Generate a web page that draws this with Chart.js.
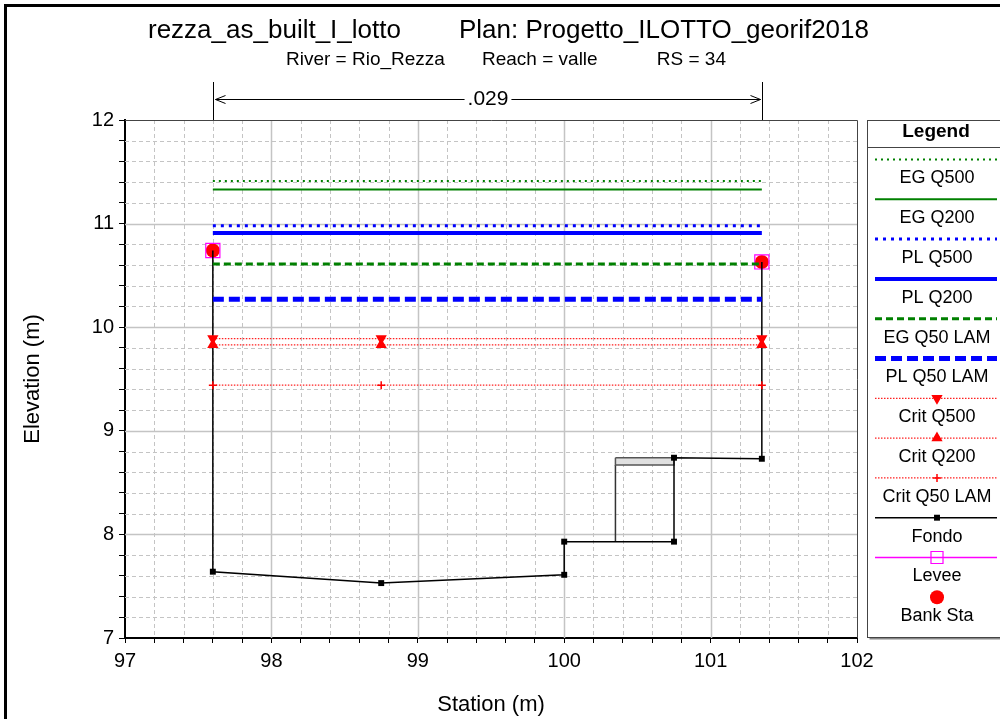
<!DOCTYPE html>
<html>
<head>
<meta charset="utf-8">
<script src="https://cdn.jsdelivr.net/npm/chart.js@4.4.0/dist/chart.umd.min.js"></script>
<style>
  html, body { margin: 0; padding: 0; background: #fff; }
  #wrap { width: 1000px; height: 719px; }
</style>
</head>
<body>
<div id="wrap"><canvas id="chart" width="1000" height="719"></canvas></div>
<script>
const wsNames = ["EG Q500", "EG Q200", "PL Q500", "PL Q200", "EG Q50 LAM", "PL Q50 LAM"];
const wsStations = [97.6, 101.35];
const wsElevations = [11.41, 11.33, 10.98, 10.91, 10.61, 10.27];

const critNames = ["Crit Q500", "Crit Q200", "Crit Q50 LAM"];
const critStations = [97.6, 98.75, 101.35];
const critElevations = [9.89, 9.83, 9.44];

const fondoStations = [97.6, 97.6, 98.75, 100.0, 100.0, 100.75, 100.75, 101.35, 101.35];
const fondoElevations = [10.74, 7.64, 7.53, 7.61, 7.93, 7.93, 8.74, 8.73, 10.63];

const bankStations = [97.6, 101.35];
const bankElevations = [10.74, 10.63];

const obstrStations = [100.35, 100.75];
const obstrElevations = [7.93, 8.67, 8.74]; // base, bottom of block, top of block

const xTicks = [97, 98, 99, 100, 101, 102];
const yTicks = [7, 8, 9, 10, 11, 12];
const manningN = ".029";

const titleLeft = "rezza_as_built_I_lotto";
const titleRight = "Plan: Progetto_ILOTTO_georif2018";
const subtitleParts = ["River = Rio_Rezza", "Reach = valle", "RS = 34"];

const FONT = '"Liberation Sans", Arial, sans-serif';

function pts(xs, ys) {
    return xs.map((x, i) => ({ x: x, y: ys[i] }));
}

function flat(y) {
    return wsStations.map(x => ({ x: x, y: y }));
}

const wsStyles = [
    { color: "#008000", width: 2, dash: [2, 4] },
    { color: "#008000", width: 2, dash: [] },
    { color: "#0000ff", width: 3, dash: [3, 5] },
    { color: "#0000ff", width: 4, dash: [] },
    { color: "#008000", width: 3, dash: [7, 4] },
    { color: "#0000ff", width: 5, dash: [11, 5] }
];

const critMarkers = [
    { style: "triangle", rotation: 180, radius: 5 },
    { style: "triangle", rotation: 0, radius: 5 },
    { style: "cross", rotation: 0, radius: 4 }
];

const datasets = [];

wsNames.forEach((name, i) => {
    datasets.push({
        label: name,
        data: flat(wsElevations[i]),
        borderColor: wsStyles[i].color,
        backgroundColor: wsStyles[i].color,
        borderWidth: wsStyles[i].width,
        borderDash: wsStyles[i].dash,
        pointRadius: 0
    });
});

critNames.forEach((name, i) => {
    datasets.push({
        label: name,
        data: critStations.map(x => ({ x: x, y: critElevations[i] })),
        borderColor: "#ff2020",
        backgroundColor: "#ff0000",
        borderWidth: 1.3,
        borderDash: [1.5, 1.5],
        pointStyle: critMarkers[i].style,
        rotation: critMarkers[i].rotation,
        pointRadius: critMarkers[i].radius,
        legendRadius: critMarkers[i].radius,
        pointBorderColor: "#ff0000",
        pointBackgroundColor: "#ff0000",
        pointBorderWidth: 1.5
    });
});

// the bank-top points of the ground line carry no marker
datasets.push({
    label: "Fondo",
    data: pts(fondoStations, fondoElevations),
    borderColor: "#000000",
    backgroundColor: "#000000",
    borderWidth: 1.5,
    pointStyle: "rect",
    pointRadius: fondoStations.map((x, i) => (i === 0 || i === fondoStations.length - 1) ? 0 : 4.2),
    legendRadius: 4.2,
    pointBackgroundColor: "#000000",
    pointBorderColor: "#000000",
    pointBorderWidth: 0
});

datasets.push({
    label: "Levee",
    data: pts(bankStations, bankElevations),
    borderColor: "#ff00ff",
    backgroundColor: "rgba(0,0,0,0)",
    borderWidth: 1.3,
    showLine: false,
    pointStyle: "rect",
    pointRadius: 10,
    legendRadius: 8.5,
    pointBorderColor: "#ff00ff",
    pointBackgroundColor: "rgba(0,0,0,0)",
    pointBorderWidth: 1.2
});

datasets.push({
    label: "Bank Sta",
    legendLine: false,
    data: pts(bankStations, bankElevations),
    borderColor: "#ff0000",
    backgroundColor: "#ff0000",
    borderWidth: 0,
    showLine: false,
    pointStyle: "circle",
    pointRadius: 7,
    legendRadius: 7,
    pointBackgroundColor: "#ff0000",
    pointBorderColor: "#ff0000",
    pointBorderWidth: 0
});

// obstruction block (not in legend)
datasets.push({
    noLegend: true,
    data: [
        { x: obstrStations[0], y: obstrElevations[2] },
        { x: obstrStations[1], y: obstrElevations[2] },
        { x: obstrStations[1], y: obstrElevations[1] },
        { x: obstrStations[0], y: obstrElevations[1] },
        { x: obstrStations[0], y: obstrElevations[2] }
    ],
    borderColor: "#555555",
    backgroundColor: "#e0e0e0",
    borderWidth: 1.5,
    fill: "shape",
    pointRadius: 0
});

datasets.push({
    noLegend: true,
    data: [
        { x: obstrStations[0], y: obstrElevations[0] },
        { x: obstrStations[0], y: obstrElevations[1] }
    ],
    borderColor: "#333333",
    borderWidth: 1.5,
    pointRadius: 0
});

function isMajor(v) {
    return Math.abs(v - Math.round(v)) < 1e-6;
}

const decorPlugin = {
    id: "decor",

    beforeDraw(chart) {
        const ctx = chart.ctx;
        ctx.save();
        ctx.fillStyle = "#ffffff";
        ctx.fillRect(0, 0, chart.width, chart.height);
        ctx.fillStyle = "#000000";
        ctx.fillRect(4, 4, 3, chart.height);
        ctx.fillRect(4, 4, chart.width, 3);
        ctx.restore();
    },

    beforeDatasetsDraw(chart) {
        const ctx = chart.ctx;
        const a = chart.chartArea;
        const xs = chart.scales.x;
        const ys = chart.scales.y;
        ctx.save();

        xs.ticks.forEach(t => {
            const v = t.value;
            if (v <= xs.min + 1e-6 || v >= xs.max - 1e-6) return;
            const px = Math.round(xs.getPixelForValue(v)) + 0.5;
            ctx.beginPath();
            if (isMajor(v)) {
                ctx.setLineDash([]);
                ctx.strokeStyle = "#c4c4c4";
                ctx.lineWidth = 1.5;
            } else {
                ctx.setLineDash([4, 3]);
                ctx.strokeStyle = "#c4c4c4";
                ctx.lineWidth = 1;
            }
            ctx.moveTo(px, a.top);
            ctx.lineTo(px, a.bottom);
            ctx.stroke();
        });

        ys.ticks.forEach(t => {
            const v = t.value;
            if (v <= ys.min + 1e-6 || v >= ys.max - 1e-6) return;
            const py = Math.round(ys.getPixelForValue(v)) + 0.5;
            ctx.beginPath();
            if (isMajor(v)) {
                ctx.setLineDash([]);
                ctx.strokeStyle = "#c4c4c4";
                ctx.lineWidth = 1.5;
            } else {
                ctx.setLineDash([4, 3]);
                ctx.strokeStyle = "#c4c4c4";
                ctx.lineWidth = 1;
            }
            ctx.moveTo(a.left, py);
            ctx.lineTo(a.right, py);
            ctx.stroke();
        });

        // top and right frame
        ctx.setLineDash([]);
        ctx.strokeStyle = "#444444";
        ctx.lineWidth = 1;
        ctx.beginPath();
        ctx.moveTo(a.left, a.top + 0.5);
        ctx.lineTo(a.right + 0.5, a.top + 0.5);
        ctx.lineTo(a.right + 0.5, a.bottom);
        ctx.stroke();
        ctx.restore();
    },

    afterDraw(chart) {
        const ctx = chart.ctx;
        const a = chart.chartArea;
        const xs = chart.scales.x;
        ctx.save();
        ctx.fillStyle = "#000000";

        // titles
        ctx.textBaseline = "middle";
        ctx.textAlign = "left";
        ctx.font = "26px " + FONT;
        ctx.fillText(titleLeft, 148, 31);
        ctx.fillText(titleRight, 459, 31);
        ctx.font = "19px " + FONT;
        ctx.fillText(subtitleParts[0], 286, 60);
        ctx.fillText(subtitleParts[1], 482, 60);
        ctx.textAlign = "right";
        ctx.fillText(subtitleParts[2], 726, 60);

        // axis titles
        ctx.textAlign = "center";
        ctx.font = "22px " + FONT;
        ctx.fillText("Station (m)", (a.left + a.right) / 2, 705);
        ctx.save();
        ctx.translate(33, (a.top + a.bottom) / 2);
        ctx.rotate(-Math.PI / 2);
        ctx.fillText("Elevation (m)", 0, 0);
        ctx.restore();

        // Manning's n annotation between bank stations
        const x0 = Math.round(xs.getPixelForValue(bankStations[0])) + 0.5;
        const x1 = Math.round(xs.getPixelForValue(bankStations[1])) + 0.5;
        const yA = 99.5;
        ctx.strokeStyle = "#000000";
        ctx.lineWidth = 1;
        ctx.beginPath();
        ctx.moveTo(x0, 82);
        ctx.lineTo(x0, a.top);
        ctx.moveTo(x1, 82);
        ctx.lineTo(x1, a.top);
        ctx.stroke();
        ctx.font = "21px " + FONT;
        const mid = (x0 + x1) / 2;
        const half = ctx.measureText(manningN).width / 2 + 3;
        ctx.fillText(manningN, mid, yA);
        ctx.beginPath();
        ctx.moveTo(x0 + 2, yA);
        ctx.lineTo(mid - half, yA);
        ctx.moveTo(mid + half, yA);
        ctx.lineTo(x1 - 2, yA);
        ctx.moveTo(x0 + 12, yA - 4);
        ctx.lineTo(x0 + 2, yA);
        ctx.lineTo(x0 + 12, yA + 4);
        ctx.moveTo(x1 - 12, yA - 4);
        ctx.lineTo(x1 - 2, yA);
        ctx.lineTo(x1 - 12, yA + 4);
        ctx.stroke();

        // legend box
        const lx = 867.5, ly = 120.5, lw = 140, lh = 517;
        ctx.fillStyle = "#888888";
        ctx.fillRect(lx + 2, ly + lh, lw, 2);
        ctx.fillStyle = "#ffffff";
        ctx.fillRect(lx, ly, lw, lh);
        ctx.strokeStyle = "#444444";
        ctx.lineWidth = 1;
        ctx.strokeRect(lx, ly, lw, lh);
        ctx.beginPath();
        ctx.moveTo(lx, 147.5);
        ctx.lineTo(lx + lw, 147.5);
        ctx.stroke();
        ctx.fillStyle = "#000000";
        ctx.font = "bold 19px " + FONT;
        ctx.fillText("Legend", 936, 132);

        const items = chart.data.datasets.filter(d => !d.noLegend);
        items.forEach((d, i) => {
            const yl = 159.5 + i * 39.8;
            const cx = 937;
            if (d.legendLine !== false) {
                ctx.save();
                ctx.strokeStyle = d.borderColor;
                ctx.lineWidth = d.borderWidth;
                ctx.setLineDash(d.borderDash || []);
                ctx.beginPath();
                ctx.moveTo(875, yl);
                ctx.lineTo(997, yl);
                ctx.stroke();
                ctx.restore();
            }
            if (d.legendRadius) {
                ctx.save();
                ctx.fillStyle = d.pointBackgroundColor;
                ctx.strokeStyle = d.pointBorderColor;
                ctx.lineWidth = d.pointBorderWidth;
                ctx.setLineDash([]);
                Chart.helpers.drawPoint(ctx, {
                    pointStyle: d.pointStyle,
                    radius: d.legendRadius,
                    rotation: d.rotation || 0,
                    borderWidth: d.pointBorderWidth
                }, cx, yl);
                ctx.restore();
            }
            ctx.fillStyle = "#000000";
            ctx.font = "18px " + FONT;
            ctx.fillText(d.label, cx, yl + 19);
        });

        ctx.restore();
    }
};

new Chart(
    document.getElementById("chart"),
    {
        type: "line",
        data: { datasets: datasets },
        options: {
            responsive: false,
            animation: false,
            devicePixelRatio: 1,
            layout: { padding: { left: 0, top: 120, right: 143, bottom: 0 } },
            plugins: {
                legend: { display: false },
                title: { display: false },
                tooltip: { enabled: false }
            },
            elements: {
                line: { tension: 0, fill: false }
            },
            scales: {
                x: {
                    type: "linear",
                    min: xTicks[0],
                    max: xTicks[xTicks.length - 1],
                    afterFit(scale) { scale.height = 81; },
                    ticks: {
                        stepSize: 0.2,
                        autoSkip: false,
                        maxRotation: 0,
                        padding: 6,
                        color: "#000000",
                        font: { family: FONT, size: 20 },
                        callback: v => (isMajor(v) && xTicks.includes(Math.round(v))) ? String(Math.round(v)) : ""
                    },
                    grid: {
                        drawOnChartArea: false,
                        drawTicks: true,
                        tickLength: 5,
                        tickColor: "#000000"
                    },
                    border: { display: true, color: "#000000", width: 2 }
                },
                y: {
                    type: "linear",
                    min: yTicks[0],
                    max: yTicks[yTicks.length - 1],
                    afterFit(scale) { scale.width = 125; },
                    ticks: {
                        stepSize: 0.2,
                        autoSkip: false,
                        padding: 5,
                        color: "#000000",
                        font: { family: FONT, size: 20 },
                        callback: v => (isMajor(v) && yTicks.includes(Math.round(v))) ? String(Math.round(v)) : ""
                    },
                    grid: {
                        drawOnChartArea: false,
                        drawTicks: true,
                        tickLength: 6,
                        tickColor: "#000000"
                    },
                    border: { display: true, color: "#000000", width: 2 }
                }
            }
        },
        plugins: [decorPlugin]
    }
);
</script>
</body>
</html>
